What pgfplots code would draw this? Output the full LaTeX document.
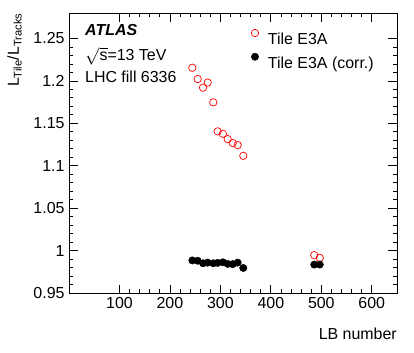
\documentclass[border=0pt]{standalone}
\usepackage{fontspec}
\setmainfont{Liberation Sans}
\usepackage{pgfplots}
\pgfplotsset{compat=1.18}
\begin{document}
\begin{tikzpicture}[font=\fontsize{16}{19}\selectfont]
\begin{axis}[
  scale only axis,
  width=328bp, height=280bp,
  xmin=0, xmax=650, ymin=0.95, ymax=1.28,
  xtick={100,200,300,400,500,600},
  ytick={0.95,1,1.05,1.1,1.15,1.2,1.25},
  minor x tick num=4, minor y tick num=4,
  major tick length=8.5bp, minor tick length=4.2bp,
  tick align=inside, xtick pos=both, ytick pos=both,
  xticklabel pos=bottom, yticklabel pos=left,
  axis line style={line width=0.7bp},
  every tick/.style={black, line width=0.7bp},
  /pgf/number format/assume math mode=true,
  /pgf/number format/fixed, /pgf/number format/precision=2,
  ticklabel style={font=\fontsize{16}{19}\selectfont},
  xticklabel style={yshift=-1bp},
  yticklabel style={xshift=-1bp},
  legend cell align=left,
  legend image code/.code={\path[draw=none,fill=none] (0bp,0bp) rectangle (18bp,11.5bp); \draw[#1] plot coordinates {(5bp,5.7bp)};},
  legend style={draw=none, fill=none, inner sep=0pt, outer sep=0pt,
    at={(0.5518,0.9493)}, anchor=north west, row sep=6.5bp, column sep=0pt,
    nodes={inner sep=0pt, text height=11.5bp, text depth=0pt},
    font=\fontsize{16}{19}\selectfont},
]
\addplot[only marks, mark=o, mark size=3.7bp, color=red, mark options={line width=0.7bp}] coordinates {
(244.4,1.2155) (255.0,1.2022) (265.6,1.1920) (274.8,1.1980) (286.0,1.1747)
(294.6,1.1405) (305.0,1.1377) (314.5,1.1314) (324.4,1.1267) (334.3,1.1243)
(345.4,1.1117) (486,0.9946) (497,0.9914)
};
\addlegendentry{Tile E3A}
\addplot[only marks, mark=*, mark size=3.7bp, color=black] coordinates {
(244.4,0.9884) (255.0,0.9880) (265.6,0.9850) (274.8,0.9858) (286.0,0.9850)
(294.6,0.9855) (305.0,0.9862) (314.5,0.9843) (324.4,0.9840) (334.3,0.9858)
(345.4,0.9795) (486,0.9835) (497,0.9835)
};
\addlegendentry{Tile E3A (corr.)}
\end{axis}
\node[anchor=base west, inner sep=0pt] at (16bp,257bp) {\bfseries\itshape ATLAS};
\node[anchor=base west, inner sep=0pt] at (16bp,232bp) {\smash{$\sqrt{\mbox{s}}$}=13 TeV};
\node[anchor=base west, inner sep=0pt] at (16bp,210bp) {LHC fill 6336};
\node[anchor=base east, inner sep=0pt, rotate=90] at (-50bp,280bp) {L\textsubscript{Tile}/L\textsubscript{Tracks}};
\node[anchor=base east, inner sep=0pt] at (328bp,-46bp) {LB number};
\pgfresetboundingbox
\useasboundingbox (-69bp,-60bp) rectangle (345bp,293bp);
\end{tikzpicture}
\end{document}
